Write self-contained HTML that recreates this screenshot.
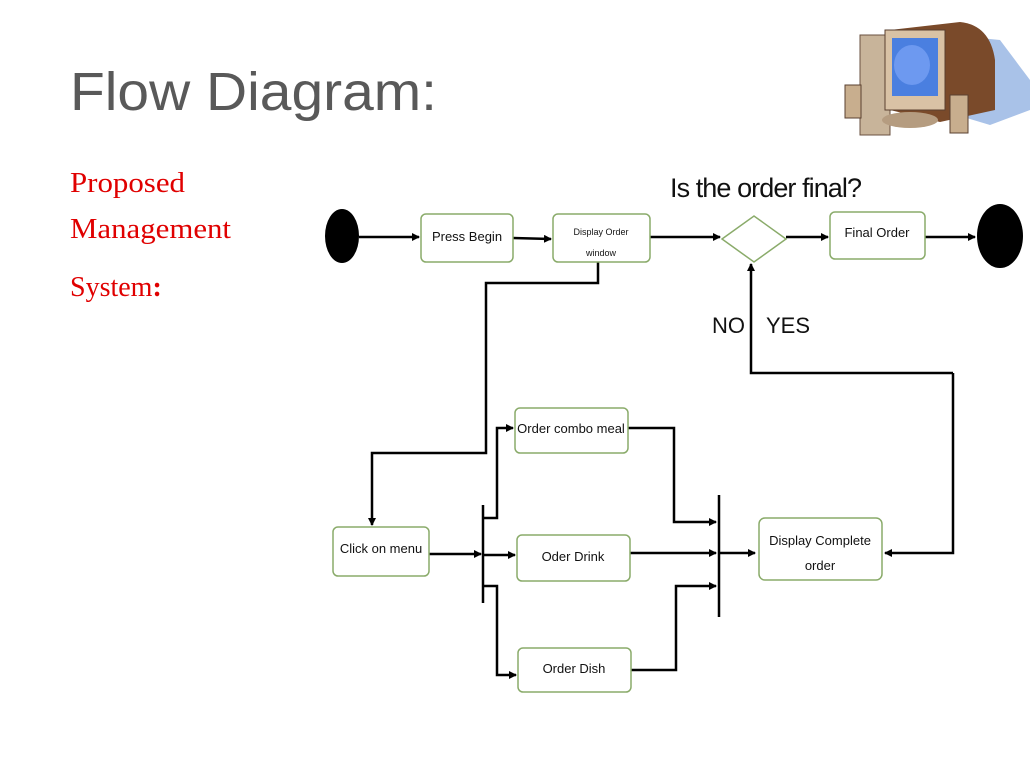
<!DOCTYPE html>
<html><head><style>
body{margin:0;background:#fff;width:1035px;height:761px;overflow:hidden;position:relative}
svg{position:absolute;left:0;top:0}
</style></head><body>
<svg width="1035" height="761" viewBox="0 0 1035 761" font-family="Liberation Sans, sans-serif">
<defs><marker id="a" markerWidth="8" markerHeight="8" refX="7" refY="4" orient="auto" markerUnits="userSpaceOnUse"><path d="M0,0 L8,4 L0,8z" fill="#000"/></marker></defs>
<text x="70" y="110" font-size="54" fill="#595959" textLength="367" lengthAdjust="spacingAndGlyphs">Flow Diagram:</text>
<g font-family="Liberation Serif, serif" font-size="28" fill="#e00000">
<text x="70" y="192" textLength="115" lengthAdjust="spacingAndGlyphs">Proposed</text>
<text x="70" y="238" textLength="161" lengthAdjust="spacingAndGlyphs">Management</text>
<text x="70" y="296">System<tspan font-weight="bold">:</tspan></text>
</g>
<!-- computer -->
<g>
<path d="M950,35 L1000,40 L1030,80 L1030,110 L990,125 L940,110z" fill="#a9c2e8"/>
<rect x="860" y="35" width="30" height="100" fill="#c8b49a" stroke="#6a5040"/>
<path d="M890,30 L960,22 Q990,25 995,60 L995,110 L940,122 L890,110z" fill="#7a4a2a"/>
<rect x="885" y="30" width="60" height="80" fill="#d9c2a5" stroke="#5a4030"/>
<rect x="892" y="38" width="46" height="58" fill="#4a7fe0"/>
<ellipse cx="912" cy="65" rx="18" ry="20" fill="#6d99f0"/>
<ellipse cx="910" cy="120" rx="28" ry="8" fill="#b59c80"/>
<rect x="845" y="85" width="16" height="33" fill="#c8ae8e" stroke="#5a4030"/>
<rect x="950" y="95" width="18" height="38" fill="#c8ae8e" stroke="#5a4030"/>
</g>
<g stroke="#000" stroke-width="2.5" fill="none">
<line x1="359" y1="237" x2="419" y2="237" marker-end="url(#a)"/>
<line x1="513" y1="238" x2="551" y2="239" marker-end="url(#a)"/>
<line x1="650" y1="237" x2="720" y2="237" marker-end="url(#a)"/>
<line x1="786" y1="237" x2="828" y2="237" marker-end="url(#a)"/>
<line x1="925" y1="237" x2="975" y2="237" marker-end="url(#a)"/>
<polyline points="598,262 598,283 486,283 486,453 372,453 372,525" marker-end="url(#a)"/>
<line x1="429" y1="554" x2="481" y2="554" marker-end="url(#a)"/>
<line x1="483" y1="505" x2="483" y2="603"/>
<polyline points="483,518 497,518 497,428 513,428" marker-end="url(#a)"/>
<line x1="483" y1="555" x2="515" y2="555" marker-end="url(#a)"/>
<polyline points="483,586 497,586 497,675 516,675" marker-end="url(#a)"/>
<polyline points="628,428 674,428 674,522 716,522" marker-end="url(#a)"/>
<line x1="630" y1="553" x2="716" y2="553" marker-end="url(#a)"/>
<polyline points="631,670 676,670 676,586 716,586" marker-end="url(#a)"/>
<line x1="719" y1="495" x2="719" y2="617"/>
<line x1="719" y1="553" x2="755" y2="553" marker-end="url(#a)"/>
<polyline points="953,373 953,553 885,553" marker-end="url(#a)"/>
<polyline points="953,373 751,373 751,264" marker-end="url(#a)"/>
</g>
<ellipse cx="342" cy="236" rx="17" ry="27" fill="#000"/>
<ellipse cx="1000" cy="236" rx="23" ry="32" fill="#000"/>
<g fill="#fff" stroke="#8aab6a" stroke-width="1.5">
<rect x="421" y="214" width="92" height="48" rx="5"/>
<rect x="553" y="214" width="97" height="48" rx="5"/>
<path d="M722,239 L754,216 L786,239 L754,262z"/>
<rect x="830" y="212" width="95" height="47" rx="5"/>
<rect x="333" y="527" width="96" height="49" rx="5"/>
<rect x="515" y="408" width="113" height="45" rx="5"/>
<rect x="517" y="535" width="113" height="46" rx="5"/>
<rect x="518" y="648" width="113" height="44" rx="5"/>
<rect x="759" y="518" width="123" height="62" rx="6"/>
</g>
<g font-size="13" fill="#111" text-anchor="middle">
<text x="467" y="241">Press Begin</text>
<text x="601" y="235" font-size="9">Display Order</text>
<text x="601" y="256" font-size="9">window</text>
<text x="877" y="237">Final Order</text>
<text x="381" y="553">Click on menu</text>
<text x="571" y="433">Order combo meal</text>
<text x="573" y="561">Oder Drink</text>
<text x="574" y="673">Order Dish</text>
<text x="820" y="545">Display Complete</text>
<text x="820" y="570">order</text>
</g>
<text x="670" y="197" font-size="27" fill="#111" textLength="192">Is the order final?</text>
<text x="712" y="333" font-size="22" fill="#111">NO</text>
<text x="766" y="333" font-size="22" fill="#111">YES</text>
</svg>
</body></html>
